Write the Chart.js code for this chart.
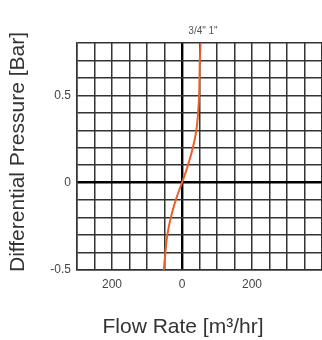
<!DOCTYPE html>
<html>
<head>
<meta charset="utf-8">
<script src="https://cdn.jsdelivr.net/npm/chart.js@4/dist/chart.umd.min.js"></script>
<style>
  html, body { margin: 0; padding: 0; background: #fff; }
  #wrap { width: 322px; height: 340px; }
</style>
</head>
<body>
<div id="wrap"><canvas id="dpChart"></canvas></div>
<script>
// flow (m3/hr) vs differential pressure (bar)
const flowRate = [-52, -47, -42, -32, -18, 0, 17, 31, 41, 46, 49, 50, 51, 53];
const pressure = [-0.5, -0.39, -0.3, -0.2, -0.1, 0, 0.1, 0.2, 0.3, 0.4, 0.5, 0.6, 0.7, 0.8];
const xTickLabels = [-200, 0, 200];
const yTickLabels = [-0.5, 0, 0.5];
const sizeLabel = '3/4" 1"';
const xTitle = 'Flow Rate [m³/hr]';
const yTitle = 'Differential Pressure [Bar]';

const points = flowRate.map((f, i) => ({ x: f, y: pressure[i] }));
const FONT = '"Liberation Sans", Arial, sans-serif';

function isZero(v) { return Math.abs(v) < 1e-9; }
function inList(list, v) { return list.some(t => Math.abs(t - v) < 1e-9); }

// axis titles + the pipe size label over the curve
const textPlugin = {
  id: 'chartTexts',
  afterDraw(chart) {
    const ctx = chart.ctx;
    const xs = chart.scales.x;
    const top = chart.chartArea.top;
    ctx.save();
    ctx.textAlign = 'center';
    ctx.textBaseline = 'middle';

    ctx.font = '10px ' + FONT;
    ctx.fillStyle = '#555';
    ctx.fillText(sizeLabel, xs.getPixelForValue(60), top - 12);

    ctx.font = '21px ' + FONT;
    ctx.fillStyle = '#333';
    ctx.fillText(xTitle, xs.getPixelForValue(0) + 1, 327);

    ctx.translate(18, 152);
    ctx.rotate(-Math.PI / 2);
    ctx.fillText(yTitle, 0, 0);
    ctx.restore();
  }
};

new Chart(document.getElementById('dpChart').getContext('2d'), {
  type: 'scatter',
  data: {
    datasets: [{
      data: points,
      showLine: true,
      borderColor: '#ec5f2a',
      borderWidth: 2,
      pointRadius: 0,
      tension: 0.4,
      fill: false
    }]
  },
  options: {
    responsive: true,
    maintainAspectRatio: false,
    animation: false,
    layout: { padding: { top: 43, right: 0, left: 0, bottom: 0 } },
    plugins: { legend: { display: false }, tooltip: { enabled: false } },
    scales: {
      x: {
        type: 'linear',
        min: -300,
        max: 400,
        afterFit: (scale) => { scale.height = 70; },
        border: { display: true, color: '#333', width: 1.5 },
        grid: {
          color: (c) => isZero(c.tick.value) ? '#000' : '#333',
          lineWidth: (c) => isZero(c.tick.value) ? 2.4 : 1.5,
          drawTicks: true,
          tickLength: 7,
          tickColor: 'rgba(0,0,0,0)'
        },
        ticks: {
          stepSize: 50,
          padding: 0,
          autoSkip: false,
          maxRotation: 0,
          color: '#444',
          font: { family: FONT, size: 12 },
          callback: (v) => inList(xTickLabels, v) ? String(Math.abs(v)) : ''
        }
      },
      y: {
        type: 'linear',
        min: -0.5,
        max: 0.8,
        afterFit: (scale) => { scale.width = 77; },
        border: { display: true, color: '#333', width: 1.5 },
        grid: {
          color: (c) => isZero(c.tick.value) ? '#000' : '#333',
          lineWidth: (c) => isZero(c.tick.value) ? 2.4 : 1.5,
          drawTicks: false
        },
        ticks: {
          stepSize: 0.1,
          padding: 6,
          autoSkip: false,
          color: '#444',
          font: { family: FONT, size: 12 },
          callback: (v) => inList(yTickLabels, v) ? (isZero(v) ? '0' : String(v)) : ''
        }
      }
    }
  },
  plugins: [textPlugin]
});
</script>
</body>
</html>
